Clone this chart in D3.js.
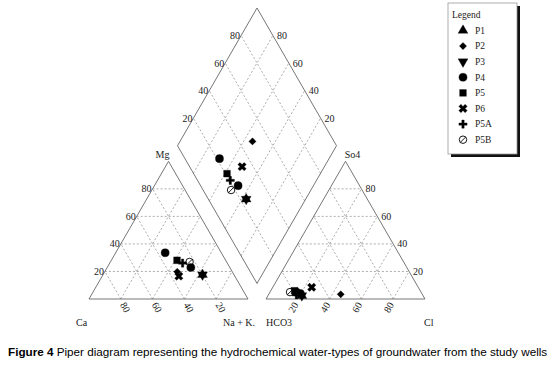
<!DOCTYPE html>
<html>
<head>
<meta charset="utf-8">
<script src="https://cdn.jsdelivr.net/npm/d3@7"></script>
<style>
  body { margin: 0; background: #fff; }
  svg text { font-family: "Liberation Serif", "Times New Roman", serif; }
</style>
</head>
<body>
<div id="chart"></div>
<script>
// samples (two wells share the P4 symbol)
const samples = ["P1", "P2", "P3", "P4", "P4", "P5", "P6", "P5A", "P5B"];

// cations, % meq
const ca  = [19.8, 34.6, 19.8, 35.3, 24.5, 30.6, 35.2, 28.1, 23.3];
const mg  = [17.6, 19.8, 17.6, 33.6, 22.9, 28.1, 16.6, 26.1, 26.9];
const nak = [62.6, 45.6, 62.6, 31.1, 52.6, 41.3, 48.2, 45.8, 49.8];

// anions, % meq
const hco3 = [76.2, 51.3, 76.2, 78.3, 76.4, 79.0, 67.0, 79.4, 82.4];
const so4  = [ 2.5,  3.4,  2.5,  5.0,  4.0,  6.0,  8.5,  3.0,  5.0];
const cl   = [21.3, 45.3, 21.3, 16.7, 19.6, 15.0, 24.5, 17.6, 12.6];

const gridTicks = [20, 40, 60, 80];
const legendItems = ["P1", "P2", "P3", "P4", "P5", "P6", "P5A", "P5B"];

const width = 558, height = 365;
const side = 159;
const tri = side * Math.sqrt(3) / 2;

// percent -> length along a side / height
const pct = d3.scaleLinear().domain([0, 100]).range([0, side]);
const pctH = d3.scaleLinear().domain([0, 100]).range([0, tri]);

const leftOrigin = { x: 89, y: 299 };    // Ca corner
const rightOrigin = { x: 266, y: 299 };  // HCO3 corner
const gap = rightOrigin.x - (leftOrigin.x + side);
const diaBottom = { x: leftOrigin.x + side + gap / 2, y: leftOrigin.y - gap / 2 * Math.sqrt(3) };

const cationXY = (m, n) => [leftOrigin.x + pct(n) + pct(m) / 2, leftOrigin.y - pctH(m)];
const anionXY = (s, c) => [rightOrigin.x + pct(c) + pct(s) / 2, rightOrigin.y - pctH(s)];
const diamondXY = (a, b) => [diaBottom.x + (pct(b) - pct(a)) / 2, diaBottom.y - pctH(a) - pctH(b)];

const svg = d3.select("#chart")
  .append("svg")
    .attr("width", width)
    .attr("height", height);

const line = d3.line();
const gridColor = "#8a8a8a";
const edgeColor = "#666";

function gridLine(p1, p2) {
  svg.append("path")
    .attr("d", line([p1, p2]))
    .attr("fill", "none")
    .attr("stroke", gridColor)
    .attr("stroke-width", 0.7)
    .attr("stroke-dasharray", "2,2");
}

function outline(pts) {
  svg.append("path")
    .attr("d", line(pts) + "Z")
    .attr("fill", "none")
    .attr("stroke", edgeColor)
    .attr("stroke-width", 0.9);
}

function label(x, y, txt, anchor, rot) {
  const t = svg.append("text")
    .attr("font-size", "10px")
    .attr("fill", "#222")
    .attr("text-anchor", anchor)
    .attr("dy", "0.35em")
    .text(txt);
  if (rot) t.attr("transform", `translate(${x},${y}) rotate(${rot})`);
  else t.attr("x", x).attr("y", y);
}

// grids
gridTicks.forEach(v => {
  // cation triangle
  gridLine(cationXY(v, 0), cationXY(v, 100 - v));
  gridLine(cationXY(0, v), cationXY(100 - v, v));
  gridLine(cationXY(0, 100 - v), cationXY(100 - v, 0));
  // anion triangle
  gridLine(anionXY(v, 0), anionXY(v, 100 - v));
  gridLine(anionXY(0, v), anionXY(100 - v, v));
  gridLine(anionXY(0, 100 - v), anionXY(100 - v, 0));
  // diamond
  gridLine(diamondXY(v, 0), diamondXY(v, 100));
  gridLine(diamondXY(0, v), diamondXY(100, v));
});

outline([cationXY(0, 0), cationXY(0, 100), cationXY(100, 0)]);
outline([anionXY(0, 0), anionXY(0, 100), anionXY(100, 0)]);
outline([diamondXY(0, 0), diamondXY(100, 0), diamondXY(100, 100), diamondXY(0, 100)]);

// tick labels
gridTicks.forEach(v => {
  let p = cationXY(v, 0);
  label(p[0] - 1, p[1], v, "end");
  p = cationXY(0, 100 - v);   // Ca = v on the base
  label(p[0] + 2, p[1] + 4, v, "start", 60);
  p = anionXY(v, 100 - v);
  label(p[0] + 4, p[1], v, "start");
  p = anionXY(0, v);
  label(p[0] - 2, p[1] + 4, v, "end", -60);
  p = diamondXY(100, v);
  label(p[0] - 1, p[1], v, "end");
  p = diamondXY(v, 100);
  label(p[0] + 4, p[1], v, "start");
});

// corner names
const apexL = cationXY(100, 0), apexR = anionXY(100, 0);
label(apexL[0] - 6, apexL[1] - 7, "Mg", "middle");
label(apexR[0] + 7, apexR[1] - 7, "So4", "middle");
label(76, 322, "Ca", "start");
label(223, 322, "Na + K.", "start");
label(266, 322, "HCO3", "start");
label(424, 322, "Cl", "start");

// symbols
const plusSym = {
  draw(ctx, size) {
    const r = Math.sqrt(size) * 0.62, t = 1.2;
    ctx.moveTo(-r, -t); ctx.lineTo(-t, -t); ctx.lineTo(-t, -r); ctx.lineTo(t, -r);
    ctx.lineTo(t, -t); ctx.lineTo(r, -t); ctx.lineTo(r, t); ctx.lineTo(t, t);
    ctx.lineTo(t, r); ctx.lineTo(-t, r); ctx.lineTo(-t, t); ctx.lineTo(-r, t);
    ctx.closePath();
  }
};
const slashCircle = {
  draw(ctx, size) {
    const r = Math.sqrt(size / Math.PI);
    ctx.moveTo(r, 0);
    ctx.arc(0, 0, r, 0, 2 * Math.PI);
    ctx.moveTo(-r * 0.7, r * 0.7);
    ctx.lineTo(r * 0.7, -r * 0.7);
  }
};
const symbolSpec = {
  P1:  { type: d3.symbolTriangle, size: 42, rot: 0 },
  P2:  { type: d3.symbolSquare, size: 26, rot: 45 },
  P3:  { type: d3.symbolTriangle, size: 42, rot: 180 },
  P4:  { type: d3.symbolCircle, size: 52, rot: 0 },
  P5:  { type: d3.symbolSquare, size: 46, rot: 0 },
  P6:  { type: d3.symbolCross, size: 44, rot: 45 },
  P5A: { type: plusSym, size: 44, rot: 0 },
  P5B: { type: slashCircle, size: 44, rot: 0, open: true }
};

function drawSymbol(g, name, x, y) {
  const s = symbolSpec[name];
  g.append("path")
    .attr("d", d3.symbol(s.type, s.size)())
    .attr("transform", `translate(${x},${y}) rotate(${s.rot})`)
    .attr("fill", s.open ? "none" : "#000")
    .attr("stroke", "#000")
    .attr("stroke-width", s.open ? 0.9 : 0.3);
}

const pts = svg.append("g");
samples.forEach((name, i) => {
  const c = cationXY(mg[i], nak[i]);
  const a = anionXY(so4[i], cl[i]);
  const d = diamondXY(ca[i] + mg[i], so4[i] + cl[i]);
  [c, a, d].forEach(p => drawSymbol(pts, name, p[0], p[1]));
});

// legend
const lg = svg.append("g");
lg.append("rect").attr("x", 451).attr("y", 6).attr("width", 69).attr("height", 151).attr("fill", "#111");
lg.append("rect").attr("x", 448).attr("y", 3).attr("width", 69).attr("height", 151)
  .attr("fill", "#fff").attr("stroke", "#999").attr("stroke-width", 0.8);
lg.append("text").attr("x", 452).attr("y", 15).attr("dy", "0.35em")
  .attr("font-size", "9.5px").attr("fill", "#222").text("Legend");
legendItems.forEach((name, i) => {
  const y = 30.5 + i * 15.6;
  drawSymbol(lg, name, 463, y);
  lg.append("text").attr("x", 475).attr("y", y).attr("dy", "0.35em")
    .attr("font-size", "9.5px").attr("fill", "#222").text(name);
});

// caption
const cap = svg.append("text")
  .attr("x", 8).attr("y", 356)
  .style("font-family", "'Liberation Sans', Arial, sans-serif")
  .attr("font-size", "11.7px").attr("fill", "#000");
cap.append("tspan").attr("font-weight", "bold").text("Figure 4");
cap.append("tspan").text(" Piper diagram representing the hydrochemical water-types of groundwater from the study wells");
</script>
</body>
</html>
